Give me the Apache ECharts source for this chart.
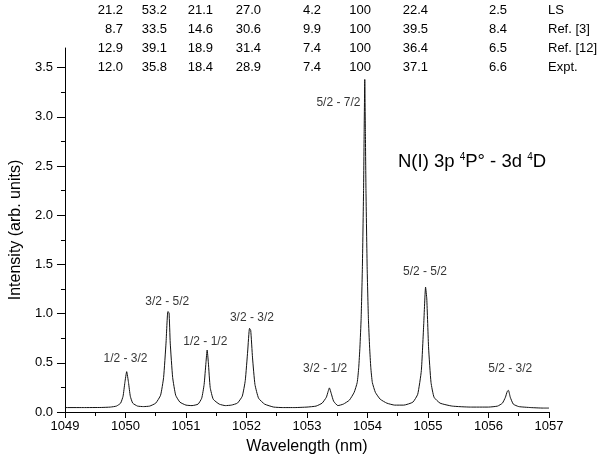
<!DOCTYPE html>
<html>
<head>
<meta charset="utf-8">
<script src="https://cdn.jsdelivr.net/npm/echarts@6/dist/echarts.min.js"></script>
<style>html,body{margin:0;padding:0;background:#fff}#c{width:602px;height:461px}</style>
</head>
<body>
<div id="c"></div>
<script>
// ---- data ----
const wavelength = [
  1049.00,1049.30,1049.60,1049.75,1049.85,1049.92,1049.96,1049.99,1050.02,1050.05,1050.08,1050.12,1050.20,1050.30,
  1050.40,1050.50,1050.58,1050.63,1050.67,1050.70,1050.72,1050.74,1050.78,1050.83,1050.90,1051.00,
  1051.10,1051.20,1051.26,1051.30,1051.33,1051.35,1051.37,1051.40,1051.45,1051.55,1051.65,
  1051.75,1051.85,1051.93,1051.98,1052.02,1052.05,1052.07,1052.10,1052.14,1052.20,1052.30,1052.45,
  1052.60,1052.80,1053.00,1053.15,1053.25,1053.32,1053.35,1053.37,1053.40,1053.44,1053.51,1053.60,
  1053.70,1053.78,1053.83,1053.855,1053.875,1053.895,1053.915,1053.935,1053.945,1053.955,1053.965,1053.975,
  1053.995,1054.015,1054.035,1054.055,1054.08,1054.13,1054.21,1054.32,
  1054.45,1054.60,1054.75,1054.83,1054.89,1054.93,1054.96,1054.98,1055.01,1055.05,1055.10,
  1055.20,1055.40,1055.70,1056.00,1056.15,1056.23,1056.28,1056.31,1056.33,1056.36,1056.41,1056.50,
  1056.70,1056.90,1057.00
];
const intensity = [
  0.045,0.045,0.046,0.05,0.06,0.09,0.16,0.30,0.41,0.30,0.16,0.09,0.06,0.055,
  0.06,0.09,0.17,0.35,0.70,1.02,1.01,0.70,0.35,0.17,0.10,0.07,
  0.065,0.08,0.14,0.28,0.50,0.63,0.50,0.25,0.13,0.08,0.065,
  0.07,0.09,0.16,0.32,0.62,0.85,0.83,0.55,0.28,0.14,0.08,0.05,
  0.045,0.045,0.05,0.06,0.09,0.15,0.21,0.245,0.19,0.11,0.065,0.08,
  0.12,0.20,0.30,0.45,0.66,0.95,1.45,2.25,2.85,3.38,2.85,2.25,
  1.45,0.95,0.66,0.45,0.30,0.20,0.13,0.09,
  0.07,0.07,0.10,0.18,0.42,0.90,1.27,1.15,0.65,0.30,0.15,
  0.09,0.06,0.05,0.05,0.06,0.09,0.15,0.21,0.22,0.15,0.08,0.055,
  0.045,0.04,0.04
];
const peakNames = ['1/2 - 3/2','3/2 - 5/2','1/2 - 1/2','3/2 - 3/2','3/2 - 1/2','5/2 - 7/2','5/2 - 5/2','5/2 - 3/2'];
const peakLabelX = [1050.00,1050.69,1051.32,1052.09,1053.30,1053.52,1054.95,1056.36];
const peakLabelY = [0.54,1.12,0.71,0.96,0.44,3.14,1.43,0.44];

const rowNames = ['LS','Ref. [3]','Ref. [12]','Expt.'];
const lsValues    = [21.2,53.2,21.1,27.0,4.2,100,22.4,2.5];
const ref3Values  = [8.7,33.5,14.6,30.6,9.9,100,39.5,8.4];
const ref12Values = [12.9,39.1,18.9,31.4,7.4,100,36.4,6.5];
const exptValues  = [12.0,35.8,18.4,28.9,7.4,100,37.1,6.6];

const yMajorTicks = [0,0.5,1.0,1.5,2.0,2.5,3.0,3.5];
const yMinorTicks = [0.25,0.75,1.25,1.75,2.25,2.75,3.25];

// ---- layout/style ----
const FONT = 'Arial, "Liberation Sans", sans-serif';
const colRight = [123,167,213,261,321,371,428,507];
const rowNameX = 548;
const rowY = [10,29,48,67];

const tableRows = [lsValues, ref3Values, ref12Values, exptValues];
const graphics = [];
tableRows.forEach((vals, r) => {
  vals.forEach((v, c) => {
    graphics.push({type:'text', x: colRight[c], y: rowY[r],
      style:{text: v === 100 ? '100' : v.toFixed(1), font: '13px ' + FONT, fill:'#000', align:'right', verticalAlign:'middle'}});
  });
  graphics.push({type:'text', x: rowNameX, y: rowY[r],
    style:{text: rowNames[r], font: '13px ' + FONT, fill:'#000', align:'left', verticalAlign:'middle'}});
});
graphics.push({type:'text', x: 398, y: 160,
  style:{
    text: '{a|N(I) 3p }{s|4}{a|P° - 3d }{s|4}{a|D}',
    verticalAlign:'middle', align:'left',
    rich:{
      a:{fontFamily: FONT, fontSize:18.5, fill:'#000', lineHeight:22, verticalAlign:'bottom'},
      s:{fontFamily: FONT, fontSize:10, fill:'#000', lineHeight:22, verticalAlign:'bottom', padding:[0,0,9,0]}
    }
  }});

const chart = echarts.init(document.getElementById('c'), null, {renderer:'canvas'});
chart.setOption({
  animation:false,
  backgroundColor:'#fff',
  textStyle:{fontFamily: FONT},
  grid:{left:62, right:53, top:48, bottom:49},
  xAxis:{
    type:'value', min:1049, max:1057, interval:1,
    name:'Wavelength (nm)', nameLocation:'middle', nameGap:27,
    nameTextStyle:{fontSize:16, color:'#000', fontFamily: FONT},
    axisLine:{show:true, lineStyle:{color:'#000', width:1}},
    axisTick:{show:true, inside:false, length:6, lineStyle:{color:'#000'}},
    minorTick:{show:true, splitNumber:2, length:4, lineStyle:{color:'#000'}},
    axisLabel:{color:'#000', fontSize:13, margin:8, fontFamily: FONT, formatter: v => String(v)},
    splitLine:{show:false}
  },
  yAxis:[{
    type:'value', min:0, max:3.7,
    name:'Intensity (arb. units)', nameLocation:'middle', nameGap:33,
    nameTextStyle:{fontSize:16, color:'#000', fontFamily: FONT},
    axisLine:{show:true, onZero:false, lineStyle:{color:'#000', width:1}},
    axisTick:{show:true, length:8, customValues: yMajorTicks, lineStyle:{color:'#000'}},
    axisLabel:{color:'#000', fontSize:13, margin:12, customValues: yMajorTicks, fontFamily: FONT,
      formatter: v => v.toFixed(1)},
    splitLine:{show:false}
  },{
    type:'value', min:0, max:3.7, position:'left',
    axisLine:{show:false},
    axisTick:{show:true, length:4, customValues: yMinorTicks, lineStyle:{color:'#000'}},
    axisLabel:{show:false},
    splitLine:{show:false}
  }],
  series:[{
    type:'line',
    data: wavelength.map((w,i)=>[w, intensity[i]]),
    showSymbol:false, symbol:'none',
    lineStyle:{color:'#111', width:1},
    smooth:0.15,
    silent:true
  },{
    type:'scatter',
    data: peakLabelX.map((x,i)=>[x, peakLabelY[i], peakNames[i]]),
    symbolSize:0,
    silent:true,
    label:{show:true, position:'inside', formatter: p => p.data[2], color:'#000', fontSize:12, fontFamily: FONT}
  }],
  graphic: graphics
});
</script>
</body>
</html>
